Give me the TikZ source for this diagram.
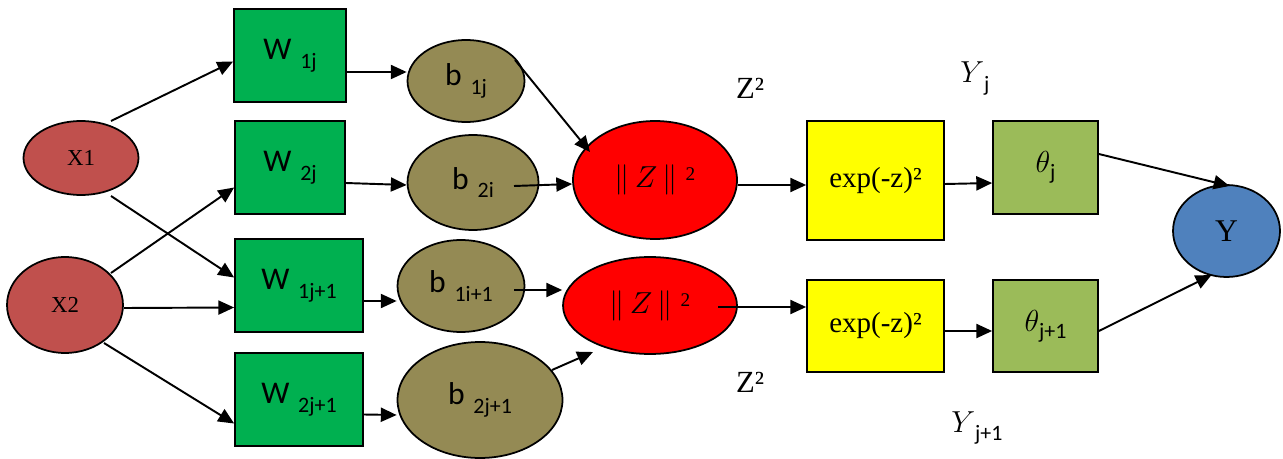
\documentclass[tikz,border=0pt]{standalone}
\usepackage{fontspec}
\setmainfont{Liberation Serif}
\newfontfamily\carl{Carlito}
\usetikzlibrary{shapes.geometric,arrows.meta,calc}
\definecolor{xred}{HTML}{C0504D}
\definecolor{wgreen}{HTML}{00B050}
\definecolor{olivebg}{HTML}{948A54}
\definecolor{zred}{HTML}{FF0000}
\definecolor{yel}{HTML}{FFFF00}
\definecolor{thg}{HTML}{9BBB59}
\definecolor{yblue}{HTML}{4F81BD}
\newcommand\wlab[2]{{\carl\fontsize{18}{21}\selectfont #1}\hspace{5pt}\raisebox{-5pt}{\carl\fontsize{12.5}{14}\selectfont #2}}
\newcommand\thlab[1]{{\fontsize{18}{21}\selectfont$\theta$}\raisebox{-4pt}{\carl\fontsize{12.5}{14}\selectfont #1}}
\newcommand\ylab[1]{{\fontsize{19}{22}\selectfont$Y$}\raisebox{-5pt}{\carl\fontsize{12.5}{14}\selectfont #1}}
\newcommand\znorm{{\fontsize{18}{21}\selectfont$\|\,Z\,\|$\ \raisebox{4pt}{\fontsize{11}{12}\selectfont 2}}}
\tikzset{
  basebox/.style={draw=black, line width=1pt, inner sep=0pt},
  xnode/.style={basebox, ellipse, fill=xred, font=\fontsize{13}{15}\selectfont},
  wbox/.style={basebox, rectangle, fill=wgreen},
  bnode/.style={basebox, ellipse, fill=olivebg},
  znode/.style={basebox, ellipse, fill=zred},
  ebox/.style={basebox, rectangle, fill=yel, font=\fontsize{16.5}{19}\selectfont},
  tbox/.style={basebox, rectangle, fill=thg},
  ynode/.style={basebox, ellipse, fill=yblue, font=\fontsize{18}{21}\selectfont},
  zlab/.style={font=\fontsize{17.5}{20}\selectfont, inner sep=0pt},
  arr/.style={line width=1.1pt, -{Triangle[length=9pt,width=8pt]}},
}
\begin{document}
\begin{tikzpicture}[x=0.02cm,y=-0.02cm]
\useasboundingbox (0,0) rectangle (1283,459);
% inputs
\node[xnode, minimum width=2.30cm, minimum height=1.48cm] (X1) at (81,158) {X1};
\node[xnode, minimum width=2.32cm, minimum height=1.92cm] (X2) at (65,305) {X2};
% weights
\node[wbox, minimum width=2.24cm, minimum height=1.86cm] (W1j) at (290,55.5) {\wlab{W}{1j}};
\node[wbox, minimum width=2.20cm, minimum height=1.86cm] (W2j) at (290,167.5) {\wlab{W}{2j}};
\node[wbox, minimum width=2.56cm, minimum height=1.86cm] (W1k) at (299,285.5) {\wlab{W}{1j+1}};
\node[wbox, minimum width=2.56cm, minimum height=1.86cm] (W2k) at (299,399.5) {\wlab{W}{2j+1}};
% biases
\node[bnode, minimum width=2.34cm, minimum height=1.64cm] (b1j) at (466,81) {\wlab{b}{1j}};
\node[bnode, minimum width=2.62cm, minimum height=1.90cm] (b2j) at (473,182.5) {\wlab{b}{2i}};
\node[bnode, minimum width=2.54cm, minimum height=1.84cm] (b1k) at (461,286) {\wlab{b}{1i+1}};
\node[bnode, minimum width=3.30cm, minimum height=2.32cm] (b2k) at (480,400) {\wlab{b}{2j+1}};
% norms
\node[znode, minimum width=3.28cm, minimum height=2.36cm] (Z1) at (655,180) {\znorm};
\node[znode, minimum width=3.48cm, minimum height=1.94cm] (Z2) at (650,305.5) {\znorm};
% exp
\node[ebox, minimum width=2.74cm, minimum height=2.38cm] (E1) at (875.5,180.5) {exp(-z)²};
\node[ebox, minimum width=2.74cm, minimum height=1.84cm] (E2) at (875.5,326) {exp(-z)²};
% theta
\node[tbox, minimum width=2.10cm, minimum height=1.86cm] (T1) at (1045.5,167.5) {\thlab{j}};
\node[tbox, minimum width=2.10cm, minimum height=1.84cm] (T2) at (1045.5,326) {\thlab{j+1}};
% output
\node[ynode, minimum width=2.14cm, minimum height=1.84cm] (Y) at (1226.5,231) {Y};
% labels
\node[zlab] (L1) at (750,88) {Z²};
\node[zlab] (L2) at (750,382) {Z²};
\node[inner sep=0pt, anchor=base west] (L3) at (960,83) {\ylab{j}};
\node[inner sep=0pt, anchor=base west] (L4) at (951,432) {\ylab{j+1}};
% connectors
\draw[arr] ($(X1)+(30,-37)$) -- ($(W1j.west)+(0,6)$);
\draw[arr] ($(X1)+(30,38)$) -- ($(W1k.west)+(0,-8)$);
\draw[arr] ($(X2)+(46,-32)$) -- ($(W2j.west)+(0,20)$);
\draw[arr] ($(X2.east)+(0,3)$) -- ($(W1k.west)+(0,22)$);
\draw[arr] ($(X2)+(39,38)$) -- ($(W2k.west)+(0,24)$);
\draw[arr] ($(W1j.east)+(0,16.5)$) -- ($(b1j.west)+(0,-9)$);
\draw[arr] ($(W2j.east)+(0,15.5)$) -- ($(b2j.west)+(0,2.5)$);
\draw[arr] ($(W1k.east)+(0,15.5)$) -- ($(b1k.west)+(0,15)$);
\draw[arr] ($(W2k.east)+(0,15)$) -- ($(b2k.west)+(0,15)$);
\draw[arr] ($(b1j)+(49,-21)$) -- ($(Z1)+(-65,-28)$);
\draw[arr] ($(b2j)+(41,3.5)$) -- ($(Z1.west)+(0,4)$);
\draw[arr] ($(b1k)+(53,4)$) -- ($(Z2.west)+(0,-15.5)$);
\draw[arr] ($(b2k)+(72,-30)$) -- ($(Z2)+(-57,46.5)$);
\draw[arr] ($(Z1.east)+(0,5)$) -- ($(E1.west)+(0,4.5)$);
\draw[arr] ($(Z2)+(68,1.5)$) -- ($(E2.west)+(0,-19)$);
\draw[arr] ($(E1.east)+(0,3.5)$) -- ($(T1.west)+(0,15.5)$);
\draw[arr] ($(E2.east)+(0,5)$) -- ($(T2.west)+(0,5)$);
\draw[arr] ($(T1.east)+(0,-13.5)$) -- ($(Y)+(3,-45)$);
\draw[arr] ($(T2.east)+(0,5)$) -- ($(Y)+(-15,44)$);
\end{tikzpicture}
\end{document}
